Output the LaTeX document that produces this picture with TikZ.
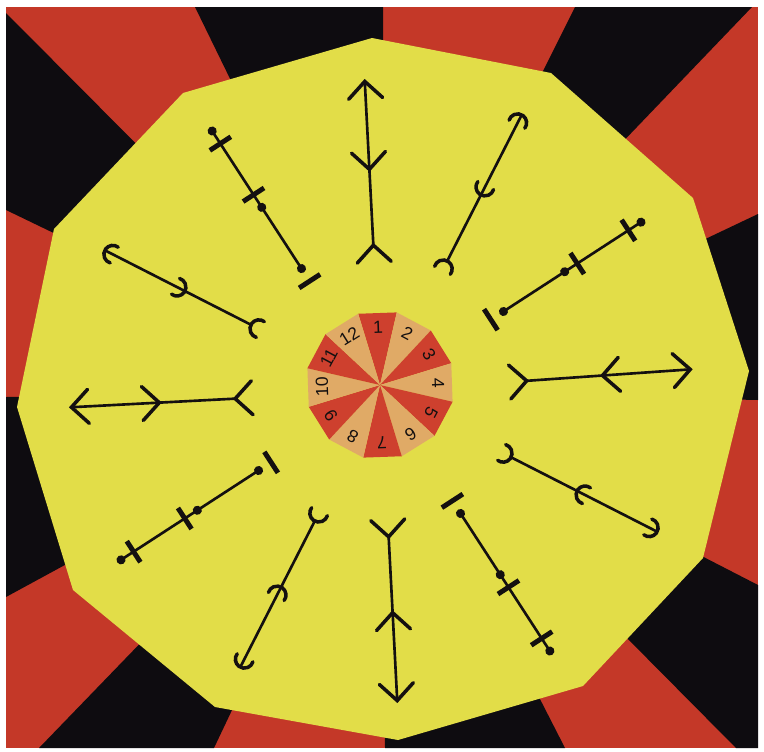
\documentclass[tikz,border=0pt]{standalone}
\usepackage{fontspec}
\setmainfont{Liberation Sans}
\definecolor{bgred}{RGB}{196,56,40}
\definecolor{bgblack}{RGB}{14,12,16}
\definecolor{yel}{RGB}{226,221,72}
\definecolor{sred}{RGB}{206,64,46}
\definecolor{stan}{RGB}{224,170,102}
\definecolor{ink}{RGB}{20,16,16}
\tikzset{
  shaft/.style={draw=ink, line width=1.5pt},
  legline/.style={draw=ink, line width=2pt, line cap=round, line join=miter},
  curl/.style={draw=ink, line width=2pt, line cap=round},
  barline/.style={draw=ink, line width=2.8pt},
  dotfill/.style={fill=ink},
  numlabel/.style={font=\fontsize{10}{11}\selectfont, text=ink, inner sep=0pt},
}
\newcommand{\ArrowFig}[1]{%
\begin{scope}[shift={(381,-391)},rotate=#1]
\draw[shaft] (146,0) -- (310,0);
\draw[legline] (129,17) -- (146,0) -- (129,-17);
\draw[legline] (239,17) -- (222,0) -- (239,-17);
\draw[legline] (293,17) -- (310,0) -- (293,-17);
\end{scope}}
\newcommand{\CurlFig}[1]{%
\begin{scope}[shift={(381,-391)},rotate=#1]
\draw[shaft] (146,0) -- (310,0);
\draw[curl] (137,0) ++(-100:5.1pt) arc[start angle=-100,end angle=100,radius=5.1pt];
\draw[curl] (229,0) ++(80:5.1pt) arc[start angle=80,end angle=280,radius=5.1pt];
\draw[curl] (301,0) ++(-100:5.1pt) arc[start angle=-100,end angle=100,radius=5.1pt];
\end{scope}}
\newcommand{\DotFig}[1]{%
\begin{scope}[shift={(381,-391)},rotate=#1]
\draw[shaft] (146,0) -- (310,0);
\fill[dotfill] (146,0) circle[radius=2.6pt];
\fill[dotfill] (219,0) circle[radius=2.6pt];
\fill[dotfill] (310,0) circle[radius=2.6pt];
\draw[barline] (131,12.5) -- (131,-12.5);
\draw[barline] (234,12.5) -- (234,-12.5);
\draw[barline] (295,12.5) -- (295,-12.5);
\end{scope}}
\begin{document}
\begin{tikzpicture}[x=0.02cm,y=0.02cm]
\useasboundingbox (0,0) rectangle (764,-751);
\fill[white] (0,0) rectangle (764,-751);
\fill[bgred] (6,-7) rectangle (758,-748);
\coordinate (C) at (383,-392);
\fill[bgblack] (C) -- (195,-7) -- (383,-7) -- cycle;
\fill[bgblack] (C) -- (575,-7) -- (752,-7) -- cycle;
\fill[bgblack] (C) -- (758,-214) -- (758,-400) -- cycle;
\fill[bgblack] (C) -- (758,-585) -- (758,-748) -- (736,-748) -- cycle;
\fill[bgblack] (C) -- (565,-748) -- (385,-748) -- cycle;
\fill[bgblack] (C) -- (214,-748) -- (39,-748) -- cycle;
\fill[bgblack] (C) -- (6,-597) -- (6,-397) -- cycle;
\fill[bgblack] (C) -- (6,-210) -- (6,-13) -- cycle;
\fill[yel] (372,-38) -- (551,-73) -- (693,-198) -- (749,-371) -- (703,-558) -- (583,-686) -- (398,-740) -- (215,-707) -- (73,-590) -- (17,-407) -- (54,-229) -- (183,-93) -- cycle;
\begin{scope}[shift={(380,-385)}]
\foreach \h in {1,...,12}{
  \pgfmathsetmacro\a{92-30*(\h-1)}
  \pgfmathtruncatemacro\odd{mod(\h,2)}
  \ifnum\odd=1
    \fill[sred] (0,0) -- (\a+15:74.5) -- (\a-15:74.5) -- cycle;
  \else
    \fill[stan] (0,0) -- (\a+15:74.5) -- (\a-15:74.5) -- cycle;
  \fi
  \node[numlabel, rotate=\a-90] (n\h) at (\a:58) {\h};
}
\end{scope}
\ArrowFig{93}
\ArrowFig{4}
\ArrowFig{-87}
\ArrowFig{183}
\CurlFig{63}
\CurlFig{-27}
\CurlFig{-117}
\CurlFig{153}
\DotFig{33}
\DotFig{-57}
\DotFig{-147}
\DotFig{123}
\end{tikzpicture}
\end{document}
